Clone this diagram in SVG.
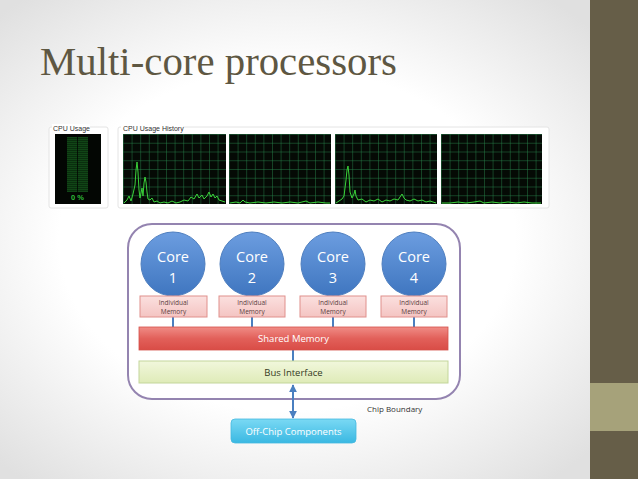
<svg xmlns="http://www.w3.org/2000/svg" width="638" height="479" viewBox="0 0 638 479">
<defs>
<radialGradient id="bg" cx="0.45" cy="0.5" r="0.65">
<stop offset="0.55" stop-color="#ffffff"/>
<stop offset="1" stop-color="#e0e0e0"/>
</radialGradient>
<pattern id="grid" x="123" y="134" width="8.6" height="8.75" patternUnits="userSpaceOnUse">
<rect width="8.6" height="8.75" fill="#050a05"/>
<path d="M0 0 H8.6 M0 0 V8.75" stroke="#25844a" stroke-width="0.9" fill="none"/>
</pattern>
<pattern id="grid2" x="229" y="134" width="8.6" height="8.75" patternUnits="userSpaceOnUse">
<rect width="8.6" height="8.75" fill="#050a05"/>
<path d="M0 0 H8.6 M0 0 V8.75" stroke="#25844a" stroke-width="0.9" fill="none"/>
</pattern>
<pattern id="grid3" x="335" y="134" width="8.6" height="8.75" patternUnits="userSpaceOnUse">
<rect width="8.6" height="8.75" fill="#050a05"/>
<path d="M0 0 H8.6 M0 0 V8.75" stroke="#25844a" stroke-width="0.9" fill="none"/>
</pattern>
<pattern id="grid4" x="441" y="134" width="8.6" height="8.75" patternUnits="userSpaceOnUse">
<rect width="8.6" height="8.75" fill="#050a05"/>
<path d="M0 0 H8.6 M0 0 V8.75" stroke="#25844a" stroke-width="0.9" fill="none"/>
</pattern>
<pattern id="meter" x="67" y="137" width="21" height="2" patternUnits="userSpaceOnUse">
<rect width="21" height="2" fill="#0a2e0e"/>
<rect width="21" height="1" fill="#114516"/>
</pattern>
<linearGradient id="core" x1="0" y1="0" x2="0" y2="1">
<stop offset="0" stop-color="#6c9de0"/>
<stop offset="1" stop-color="#3f76c0"/>
</linearGradient>
<linearGradient id="shared" x1="0" y1="0" x2="0" y2="1">
<stop offset="0" stop-color="#f08c86"/>
<stop offset="0.5" stop-color="#e2605a"/>
<stop offset="1" stop-color="#d94c46"/>
</linearGradient>
<linearGradient id="indiv" x1="0" y1="0" x2="0" y2="1">
<stop offset="0" stop-color="#fbe0df"/>
<stop offset="1" stop-color="#f4c4c2"/>
</linearGradient>
<linearGradient id="bus" x1="0" y1="0" x2="0" y2="1">
<stop offset="0" stop-color="#f1f7dc"/>
<stop offset="1" stop-color="#dfebb8"/>
</linearGradient>
<linearGradient id="off" x1="0" y1="0" x2="0" y2="1">
<stop offset="0" stop-color="#7ad9f4"/>
<stop offset="1" stop-color="#3ab8e2"/>
</linearGradient>
<marker id="ah" viewBox="0 0 10 10" refX="9" refY="5" markerWidth="4" markerHeight="4" orient="auto-start-reverse">
<path d="M0 0 L10 5 L0 10 z" fill="#4a7fc0"/>
</marker>
<style>
.coretxt{font-family:"Open Sans","Liberation Sans",sans-serif;font-size:14.5px;fill:#ffffff;text-anchor:middle;}
.imem{font-family:"Open Sans","Liberation Sans",sans-serif;font-size:6.5px;fill:#5a4040;text-anchor:middle;}
.circ{fill:url(#core);stroke:#4f7fbf;stroke-width:1;}
.ibox{fill:url(#indiv);stroke:#e0908c;stroke-width:1;}
.conn{stroke:#4a7fc0;stroke-width:2;fill:none;}
.panel{fill:#ffffff;stroke:#e4e4e4;stroke-width:1;}
.lbl{font-family:"Liberation Sans",sans-serif;font-size:7px;fill:#333333;}
.trace{fill:none;stroke:#3ad23a;stroke-width:1;}
</style>
</defs>
<rect width="638" height="479" fill="url(#bg)"/>
<rect x="590" y="0" width="48" height="479" fill="#665e48"/>
<rect x="590" y="383" width="48" height="48" fill="#a6a27a"/>
<text x="40" y="75" font-family="Liberation Serif, serif" font-size="41" fill="#5e5742" textLength="357" lengthAdjust="spacingAndGlyphs">Multi-core processors</text>

<g id="cpu-usage">
<rect class="panel" x="49" y="127" width="59" height="81" rx="2"/>
<rect x="52" y="124" width="38" height="8" fill="#ffffff"/>
<text class="lbl" x="53" y="131">CPU Usage</text>
<rect x="55" y="134" width="46" height="70" fill="#030603"/>
<rect x="67" y="137" width="21" height="55" fill="url(#meter)"/>
<line x1="77.5" y1="137" x2="77.5" y2="192" stroke="#030603" stroke-width="0.8"/>
<text x="77.5" y="200" font-family="Liberation Sans, sans-serif" font-size="7.5" font-weight="bold" fill="#2fbf3a" text-anchor="middle">0 %</text>
</g>

<g id="cpu-history">
<rect class="panel" x="118" y="127" width="431" height="81" rx="2"/>
<rect x="121" y="124" width="62" height="8" fill="#ffffff"/>
<text class="lbl" x="123" y="131">CPU Usage History</text>
<rect x="123" y="134" width="103" height="70" fill="url(#grid)"/>
<rect x="229" y="134" width="102" height="70" fill="url(#grid2)"/>
<rect x="335" y="134" width="102" height="70" fill="url(#grid3)"/>
<rect x="441" y="134" width="101" height="70" fill="url(#grid4)"/>
<polyline class="trace" points="124,203 127,200 129,196 131,201 133,194 135,185 136,170 137,162 138,172 139,190 140,198 141,193 142,188 143,196 144,183 145,177 146,182 147,192 148,199 150,200 152,198 154,202 157,201 160,203 164,202 168,203 172,201 176,203 180,202 184,200 188,201 191,197 194,199 197,194 199,198 202,195 204,199 207,196 209,192 211,197 213,194 215,198 217,196 219,200 222,201 225,202"/>
<polyline class="trace" points="230,203 236,202 240,203 243,200 245,202 250,203 258,202 266,203 274,202 282,203 290,202 298,203 306,201 310,203 318,202 326,203 330,203"/>
<polyline class="trace" points="336,203 339,201 342,199 344,196 346,180 347,170 348,166 349,175 350,192 352,198 354,194 355,190 356,196 358,200 362,199 366,202 370,200 374,201 378,199 382,202 386,200 390,201 394,199 398,200 400,197 402,194 404,198 406,200 410,201 414,199 418,201 422,200 426,202 430,201 436,203"/>
<polyline class="trace" points="442,203 450,203 458,202 466,203 474,202 480,201 484,203 492,202 500,203 508,202 516,203 524,202 532,203 541,203"/>
</g>

<g id="chip-boundary">
<rect x="128" y="224" width="332" height="175" rx="24" fill="#ffffff" stroke="#9484b0" stroke-width="2"/>
<text x="367" y="412" font-family="Open Sans, Liberation Sans, sans-serif" font-size="8" fill="#333333">Chip Boundary</text>
</g>

<g id="connectors">
<line class="conn" x1="173" y1="317" x2="173" y2="327"/>
<line class="conn" x1="252" y1="317" x2="252" y2="327"/>
<line class="conn" x1="333" y1="317" x2="333" y2="327"/>
<line class="conn" x1="414" y1="317" x2="414" y2="327"/>
<line class="conn" x1="293" y1="350" x2="293" y2="361"/>
<line class="conn" x1="293" y1="385" x2="293" y2="418" marker-start="url(#ah)" marker-end="url(#ah)"/>
</g>

<g id="core1">
<circle class="circ" cx="173" cy="264" r="32"/>
<text class="coretxt" x="173" y="262">Core</text>
<text class="coretxt" x="173" y="283">1</text>
</g>
<g id="core2">
<circle class="circ" cx="252" cy="264" r="32"/>
<text class="coretxt" x="252" y="262">Core</text>
<text class="coretxt" x="252" y="283">2</text>
</g>
<g id="core3">
<circle class="circ" cx="333" cy="264" r="32"/>
<text class="coretxt" x="333" y="262">Core</text>
<text class="coretxt" x="333" y="283">3</text>
</g>
<g id="core4">
<circle class="circ" cx="414" cy="264" r="32"/>
<text class="coretxt" x="414" y="262">Core</text>
<text class="coretxt" x="414" y="283">4</text>
</g>

<g id="mem1">
<rect class="ibox" x="140" y="296" width="67" height="21"/>
<text class="imem" x="173.5" y="305">Individual</text>
<text class="imem" x="173.5" y="314">Memory</text>
</g>
<g id="mem2">
<rect class="ibox" x="219" y="296" width="66" height="21"/>
<text class="imem" x="252" y="305">Individual</text>
<text class="imem" x="252" y="314">Memory</text>
</g>
<g id="mem3">
<rect class="ibox" x="300" y="296" width="66" height="21"/>
<text class="imem" x="333" y="305">Individual</text>
<text class="imem" x="333" y="314">Memory</text>
</g>
<g id="mem4">
<rect class="ibox" x="381" y="296" width="66" height="21"/>
<text class="imem" x="414" y="305">Individual</text>
<text class="imem" x="414" y="314">Memory</text>
</g>

<g id="shared-memory">
<rect x="139" y="327" width="309" height="23" fill="url(#shared)" stroke="#d4504a" stroke-width="0.8"/>
<text x="293.5" y="342" font-family="Open Sans, Liberation Sans, sans-serif" font-size="9.5" fill="#ffffff" text-anchor="middle">Shared Memory</text>
</g>

<g id="bus-interface">
<rect x="139" y="361" width="309" height="22" fill="url(#bus)" stroke="#c3d69b" stroke-width="1"/>
<text x="293.5" y="376" font-family="Open Sans, Liberation Sans, sans-serif" font-size="9.5" fill="#333a22" text-anchor="middle">Bus Interface</text>
</g>

<g id="off-chip">
<rect x="231" y="419" width="125" height="24" rx="4" fill="url(#off)" stroke="#45b9df" stroke-width="0.8"/>
<text x="293.5" y="435" font-family="Open Sans, Liberation Sans, sans-serif" font-size="9.5" fill="#ffffff" text-anchor="middle">Off-Chip Components</text>
</g>
</svg>
